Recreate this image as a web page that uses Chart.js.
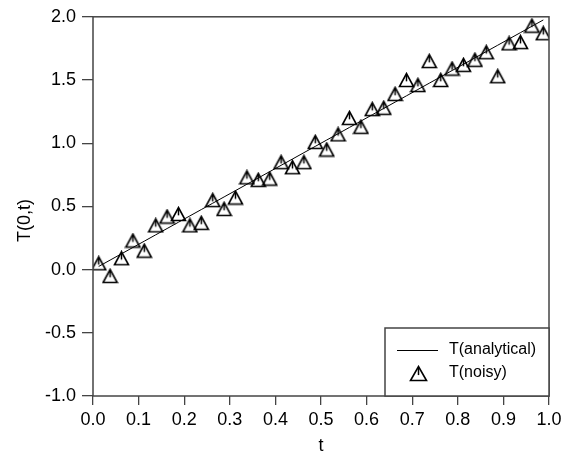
<!DOCTYPE html>
<html>
<head>
<meta charset="utf-8">
<script src="https://cdn.jsdelivr.net/npm/chart.js@4.4.1/dist/chart.umd.min.js"></script>
<style>
  html, body { margin: 0; padding: 0; background: #fff; }
  #wrap { width: 573px; height: 461px; }
</style>
</head>
<body>
<div id="wrap"><canvas id="chart" width="573" height="461"></canvas></div>
<script>
// ---- data ----
const tValues = [0.0125, 0.0375, 0.0625, 0.0875, 0.1125, 0.1375, 0.1625, 0.1875, 0.2125, 0.2375,
                 0.2625, 0.2875, 0.3125, 0.3375, 0.3625, 0.3875, 0.4125, 0.4375, 0.4625, 0.4875,
                 0.5125, 0.5375, 0.5625, 0.5875, 0.6125, 0.6375, 0.6625, 0.6875, 0.7125, 0.7375,
                 0.7625, 0.7875, 0.8125, 0.8375, 0.8625, 0.8875, 0.9125, 0.9375, 0.9625, 0.9875];
const analyticalValues = [0.025, 0.075, 0.125, 0.175, 0.225, 0.275, 0.325, 0.375, 0.425, 0.475,
                          0.525, 0.575, 0.625, 0.675, 0.725, 0.775, 0.825, 0.875, 0.925, 0.975,
                          1.025, 1.075, 1.125, 1.175, 1.225, 1.275, 1.325, 1.375, 1.425, 1.475,
                          1.525, 1.575, 1.625, 1.675, 1.725, 1.775, 1.825, 1.875, 1.925, 1.975];
const noisyValues = [0.05, -0.05, 0.09, 0.23, 0.15, 0.35, 0.42, 0.44, 0.35, 0.37,
                     0.55, 0.48, 0.57, 0.73, 0.71, 0.72, 0.85, 0.81, 0.85, 1.01,
                     0.95, 1.07, 1.20, 1.13, 1.27, 1.28, 1.39, 1.50, 1.46, 1.65,
                     1.50, 1.59, 1.62, 1.66, 1.72, 1.53, 1.79, 1.80, 1.93, 1.87];
const xTicks = [0.0, 0.1, 0.2, 0.3, 0.4, 0.5, 0.6, 0.7, 0.8, 0.9, 1.0];
const yTicks = [-1.0, -0.5, 0.0, 0.5, 1.0, 1.5, 2.0];
const seriesLabels = ['T(analytical)', 'T(noisy)'];
const xTitle = 't';
const yTitle = 'T(0,t)';

const FONT = '"Liberation Sans", Arial, Helvetica, sans-serif';
const AXIS = '#444';

// open triangle with a short stroke from the apex, like the original symbol
function makeMarker(w, h) {
  const c = document.createElement('canvas');
  c.width = w + 3;
  c.height = h + 3;
  const g = c.getContext('2d');
  g.strokeStyle = '#000';
  g.lineWidth = 1.6;
  g.beginPath();
  g.moveTo(1.5, h + 1.5);
  g.lineTo(w + 1.5, h + 1.5);
  g.lineTo(w / 2 + 1.5, 1.5);
  g.closePath();
  g.stroke();
  g.lineWidth = 1.5;
  g.beginPath();
  g.moveTo(w / 2 + 1.5, 3);
  g.lineTo(w / 2 + 1.5, h * 0.72);
  g.stroke();
  return c;
}
const marker = makeMarker(14, 13);
const legendMarker = makeMarker(16, 14);

const toPoints = (ys) => tValues.map((t, i) => ({ x: t, y: ys[i] }));

// full frame around the plot area
const framePlugin = {
  id: 'frame',
  afterDatasetsDraw(chart) {
    const { ctx, chartArea: a } = chart;
    ctx.save();
    ctx.strokeStyle = AXIS;
    ctx.lineWidth = 1.5;
    ctx.strokeRect(a.left, a.top, a.right - a.left, a.bottom - a.top);
    ctx.restore();
  }
};

// y title sits a bit below the axis middle in the original
const yTitlePlugin = {
  id: 'yTitle',
  afterDraw(chart) {
    const { ctx, chartArea: a } = chart;
    ctx.save();
    ctx.translate(25, (a.top + a.bottom) / 2 + 14);
    ctx.rotate(-Math.PI / 2);
    ctx.font = '18px ' + FONT;
    ctx.fillStyle = '#000';
    ctx.textAlign = 'center';
    ctx.textBaseline = 'middle';
    ctx.fillText(yTitle, 0, 0);
    ctx.restore();
  }
};

// boxed legend in the lower right corner of the plot
const legendPlugin = {
  id: 'boxLegend',
  afterDraw(chart) {
    const { ctx, chartArea: a } = chart;
    const ds = chart.data.datasets;
    const w = 164, h = 68;
    const left = a.right - w, top = a.bottom - h;
    ctx.save();
    ctx.fillStyle = '#fff';
    ctx.fillRect(left, top, w, h);
    ctx.strokeStyle = AXIS;
    ctx.lineWidth = 1.5;
    ctx.strokeRect(left, top, w, h);

    ctx.strokeStyle = '#000';
    ctx.lineWidth = 1;
    ctx.beginPath();
    ctx.moveTo(left + 12, top + 22.5);
    ctx.lineTo(left + 53, top + 22.5);
    ctx.stroke();
    ctx.drawImage(legendMarker, Math.round(left + 33 - legendMarker.width / 2), Math.round(top + 45 - legendMarker.height / 2));

    ctx.font = '16px ' + FONT;
    ctx.fillStyle = '#000';
    ctx.textAlign = 'left';
    ctx.textBaseline = 'middle';
    ctx.fillText(ds[0].label, left + 64, top + 22);
    ctx.fillText(ds[1].label, left + 64, top + 45);
    ctx.restore();
  }
};

new Chart(document.getElementById('chart'), {
  type: 'scatter',
  data: {
    datasets: [
      {
        label: seriesLabels[0],
        data: toPoints(analyticalValues),
        showLine: true,
        borderColor: '#000',
        borderWidth: 1,
        pointRadius: 0,
        fill: false
      },
      {
        label: seriesLabels[1],
        data: toPoints(noisyValues),
        showLine: false,
        pointStyle: marker,
        pointRadius: 7
      }
    ]
  },
  options: {
    responsive: false,
    animation: false,
    layout: { padding: { top: 14, right: 24, left: 0, bottom: 0 } },
    plugins: {
      legend: { display: false },
      tooltip: { enabled: false }
    },
    scales: {
      x: {
        type: 'linear',
        min: 0,
        max: 1,
        afterBuildTicks: (s) => { s.ticks = xTicks.map(v => ({ value: v })); },
        afterFit: (s) => { s.height = 65; },
        ticks: {
          callback: (v) => v.toFixed(1),
          font: { size: 18, family: FONT },
          color: '#000',
          padding: 4,
          maxRotation: 0
        },
        grid: { drawOnChartArea: false, drawTicks: true, tickLength: 9, color: AXIS, lineWidth: 1.3 },
        border: { display: false },
        title: { display: true, text: xTitle, font: { size: 18, family: FONT }, color: '#000', padding: { top: 2, bottom: 4 } }
      },
      y: {
        type: 'linear',
        min: -1,
        max: 2,
        afterBuildTicks: (s) => { s.ticks = yTicks.map(v => ({ value: v })); },
        afterFit: (s) => { s.width = 93; },
        ticks: {
          callback: (v) => v.toFixed(1),
          font: { size: 18, family: FONT },
          color: '#000',
          padding: 6
        },
        grid: { drawOnChartArea: false, drawTicks: true, tickLength: 11, color: AXIS, lineWidth: 1.3 },
        border: { display: false }
      }
    }
  },
  plugins: [framePlugin, legendPlugin, yTitlePlugin]
});
</script>
</body>
</html>
